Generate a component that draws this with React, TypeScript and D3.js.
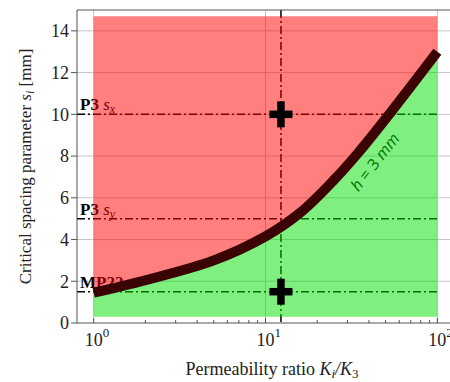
import React, { useRef, useEffect } from "react";
import * as d3 from "d3";

// Critical spacing curve for h = 3 mm
const ratioK = [1, 2, 5, 10, 16, 25, 35, 53, 100];
const spacingH3 = [1.45, 2.05, 3.0, 4.15, 5.3, 6.85, 8.2, 10.05, 13.0];

// Reference spacings drawn as dash-dot lines
const refValues = [10, 5, 1.5];
const refNames = ["P3", "P3", "MP22"];
const refSubs = ["x", "y", ""];

// Measured points (crosses)
const pointK = 12.3;
const pointS = [10, 1.5];

const yTicks = [0, 2, 4, 6, 8, 10, 12, 14];
const xMajor = [1, 10, 100];
const xExp = ["0", "1", "2"];
const regionTop = 14.7;
const regionBottom = 0.3;

const W = 450;
const H = 382;
const SERIF = "Liberation Serif, Times New Roman, serif";

export default function App() {
  const ref = useRef<SVGSVGElement | null>(null);

  useEffect(() => {
    if (!ref.current) return;
    const svg = d3.select(ref.current);
    svg.selectAll("*").remove();

    const x = d3.scaleLog().domain([0.8, 125]).range([77, 454]);
    const y = d3.scaleLinear().domain([0, 15]).range([323, 10]);
    const [x0, x1] = x.range();
    const [yb, yt] = y.range();

    const pts = ratioK.map((k, i) => [k, spacingH3[i]] as [number, number]);

    // grid
    const grid = svg.append("g").attr("stroke", "#c4c4c4").attr("stroke-width", 1);
    yTicks.slice(1).forEach((v) => {
      grid.append("line").attr("x1", x0).attr("x2", x1).attr("y1", y(v)).attr("y2", y(v));
    });
    xMajor.forEach((v) => {
      grid.append("line").attr("x1", x(v)).attr("x2", x(v)).attr("y1", yb).attr("y2", yt);
    });

    // reference labels (sit under the translucent regions)
    refValues.forEach((v, i) => {
      const t = svg
        .append("text")
        .attr("x", 80)
        .attr("y", y(v) - 4)
        .style("font-family", SERIF)
        .attr("font-size", 17)
        .attr("fill", "#000");
      t.append("tspan").attr("font-weight", "bold").text(refNames[i]);
      if (refSubs[i]) {
        t.append("tspan").attr("font-style", "italic").text(" s");
        t.append("tspan").attr("font-style", "italic").attr("font-size", 12).attr("dy", 3).text(refSubs[i]);
      }
    });

    // curve label
    const lt = svg
      .append("text")
      .attr("transform", `translate(${x(46)},${y(7.55)}) rotate(-52)`)
      .attr("text-anchor", "middle")
      .style("font-family", "Open Sans, Noto Sans, sans-serif")
      .attr("font-size", 16)
      .attr("fill", "#000");
    lt.append("tspan").attr("font-style", "italic").text("h");
    lt.append("tspan").text(" = 3 ");
    lt.append("tspan").attr("font-style", "italic").text("mm");

    // dash-dot reference lines
    const dash = "8,3,2,3";
    refValues.forEach((v) => {
      svg
        .append("line")
        .attr("x1", x0)
        .attr("x2", x(100))
        .attr("y1", y(v))
        .attr("y2", y(v))
        .attr("stroke", "#000")
        .attr("stroke-width", 1.5)
        .attr("stroke-dasharray", dash);
    });
    svg
      .append("line")
      .attr("x1", x(pointK))
      .attr("x2", x(pointK))
      .attr("y1", yt)
      .attr("y2", yb)
      .attr("stroke", "#000")
      .attr("stroke-width", 1.5)
      .attr("stroke-dasharray", dash);

    // regions
    const red = d3
      .area<[number, number]>()
      .x((d) => x(d[0]))
      .y0(y(regionTop))
      .y1((d) => y(d[1]))
      .curve(d3.curveCatmullRom);
    const green = d3
      .area<[number, number]>()
      .x((d) => x(d[0]))
      .y0(y(regionBottom))
      .y1((d) => y(d[1]))
      .curve(d3.curveCatmullRom);
    svg.append("path").attr("d", red(pts)).attr("fill", "#ff0000").attr("fill-opacity", 0.5);
    svg.append("path").attr("d", green(pts)).attr("fill", "#00e000").attr("fill-opacity", 0.5);

    // critical curve
    const line = d3
      .line<[number, number]>()
      .x((d) => x(d[0]))
      .y((d) => y(d[1]))
      .curve(d3.curveCatmullRom);
    svg
      .append("path")
      .attr("d", line(pts))
      .attr("fill", "none")
      .attr("stroke", "#3a0404")
      .attr("stroke-width", 10);

    // crosses
    pointS.forEach((s) => {
      const cx = x(pointK);
      const cy = y(s);
      const g = svg.append("g").attr("stroke", "#000").attr("stroke-width", 7.5);
      g.append("line").attr("x1", cx - 11.5).attr("x2", cx + 11.5).attr("y1", cy).attr("y2", cy);
      g.append("line").attr("x1", cx).attr("x2", cx).attr("y1", cy - 13).attr("y2", cy + 13);
    });

    // frame
    const frame = svg.append("g").attr("stroke", "#555").attr("stroke-width", 1).attr("fill", "none");
    frame.append("line").attr("x1", x0).attr("x2", x0).attr("y1", yb).attr("y2", yt);
    frame.append("line").attr("x1", x0).attr("x2", x1).attr("y1", yb).attr("y2", yb);
    frame.append("line").attr("x1", x0).attr("x2", x1).attr("y1", yt).attr("y2", yt);

    // y ticks
    yTicks.forEach((v) => {
      svg.append("line").attr("x1", x0 - 6).attr("x2", x0).attr("y1", y(v)).attr("y2", y(v)).attr("stroke", "#555");
      svg
        .append("text")
        .attr("x", x0 - 8)
        .attr("y", y(v))
        .attr("dy", "0.35em")
        .attr("text-anchor", "end")
        .style("font-family", SERIF)
        .attr("font-size", 18)
        .attr("fill", "#222")
        .text(v);
    });

    // x ticks (log minor ticks inside)
    const minor: number[] = [];
    [1, 10].forEach((dec) => d3.range(2, 10).forEach((m) => minor.push(dec * m)));
    minor.forEach((v) => {
      svg.append("line").attr("x1", x(v)).attr("x2", x(v)).attr("y1", yb).attr("y2", yb - 3).attr("stroke", "#555");
    });
    xMajor.forEach((v, i) => {
      svg.append("line").attr("x1", x(v)).attr("x2", x(v)).attr("y1", yb).attr("y2", yb - 5).attr("stroke", "#555");
      svg
        .append("text")
        .attr("x", x(v))
        .attr("y", 346)
        .attr("text-anchor", "middle")
        .style("font-family", SERIF)
        .attr("font-size", 18)
        .attr("fill", "#222")
        .text("10");
      svg
        .append("text")
        .attr("x", x(v) + 9)
        .attr("y", 337)
        .style("font-family", SERIF)
        .attr("font-size", 13)
        .attr("fill", "#222")
        .text(xExp[i]);
    });

    // axis titles
    const xt = svg
      .append("text")
      .attr("x", 272)
      .attr("y", 375)
      .attr("text-anchor", "middle")
      .style("font-family", SERIF)
      .attr("font-size", 18)
      .attr("fill", "#222");
    xt.append("tspan").text("Permeability ratio ");
    xt.append("tspan").attr("font-style", "italic").text("K");
    xt.append("tspan").attr("font-style", "italic").attr("font-size", 13).attr("dy", 3).text("i");
    xt.append("tspan").attr("font-style", "italic").attr("dy", -3).text("/K");
    xt.append("tspan").attr("font-size", 13).attr("dy", 3).text("3");

    const yl = svg
      .append("text")
      .attr("transform", `translate(31,${(yb + yt) / 2}) rotate(-90)`)
      .attr("text-anchor", "middle")
      .style("font-family", SERIF)
      .attr("font-size", 17)
      .attr("fill", "#222");
    yl.append("tspan").text("Critical spacing parameter ");
    yl.append("tspan").attr("font-style", "italic").text("s");
    yl.append("tspan").attr("font-style", "italic").attr("font-size", 12).attr("dy", 3).text("i");
    yl.append("tspan").attr("dy", -3).text(" [mm]");
  }, []);

  return (
    <div style={{ position: "absolute", left: 0, top: 0, width: W, height: H, background: "#fff" }}>
      <svg ref={ref} width={W} height={H} style={{ display: "block", fontFamily: SERIF }} />
    </div>
  );
}
